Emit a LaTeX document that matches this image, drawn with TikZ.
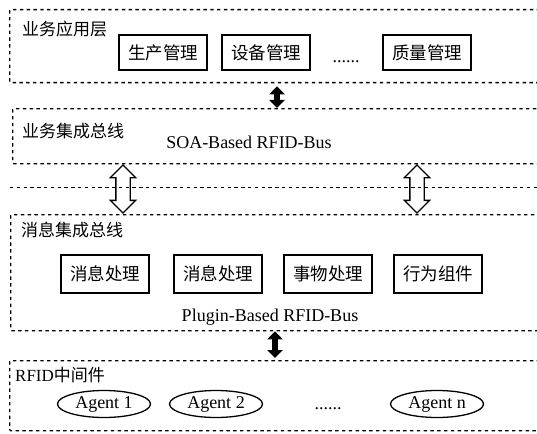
\documentclass[tikz,border=0pt]{standalone}
\usepackage{fontspec}
\setmainfont{Liberation Serif}
\newfontfamily\cjk{Noto Sans CJK SC}
\usetikzlibrary{arrows.meta,shapes.geometric,shapes.arrows}

\tikzset{
  layer/.style={draw, dash pattern=on 3.4pt off 3.4pt, line width=1.3pt,
    rounded corners=1pt, minimum width=545pt, anchor=north west, inner sep=0pt},
  busline/.style={dash pattern=on 3.4pt off 3.4pt, line width=1.2pt},
  layername/.style={anchor=west, inner sep=0pt, font=\fontsize{17pt}{20pt}\selectfont\cjk},
  module/.style={draw, line width=1.3pt, minimum height=35pt, inner xsep=9pt,
    font=\fontsize{17.5pt}{20pt}\selectfont\cjk},
  agent/.style={draw, ellipse, line width=1.3pt, minimum width=93pt,
    minimum height=27pt, inner sep=0pt, font=\fontsize{18pt}{20pt}\selectfont},
  bustext/.style={inner sep=0pt, font=\fontsize{18pt}{20pt}\selectfont},
  solidarrow/.style={line width=6pt,
    {Triangle[length=8pt,width=15pt]}-{Triangle[length=8pt,width=15pt]}},
  hollowarrow/.style={draw, double arrow, line width=1.3pt, shape border rotate=90,
    minimum height=48pt, minimum width=25pt, inner sep=6.5pt,
    double arrow head extend=5.5pt}
}

\begin{document}
\begin{tikzpicture}[x=1pt,y=-1pt]
  \clip (0,0) rectangle (537,433);

  % Layers (right edges run past the page)
  \node[layer, minimum height=73pt] (app) at (9,9) {};
  \node[layer, minimum height=55pt] (soa) at (12,108) {};
  \node[layer, minimum height=116pt] (msg) at (10,214) {};
  \node[layer, minimum height=70pt] (mid) at (9,360) {};
  \coordinate (busl) at (10,187.6);
  \coordinate (busr) at (545,187.6);
  \draw[busline] (busl) -- (busr);

  % Layer names
  \node[layername] (appname) at (22,29) {业务应用层};
  \node[layername] (soaname) at (22,131) {业务集成总线};
  \node[layername] (msgname) at (21,230) {消息集成总线};
  \node[layername] (midname) at (15,375) {\rmfamily RFID\cjk 中间件};

  % Business applications
  \node[module] (prod) at (163,52.5) {生产管理};
  \node[module] (equip) at (266,52.5) {设备管理};
  \node[bustext] (appdots) at (346,62) {......};
  \node[module] (qual) at (427,52.5) {质量管理};

  % Bus texts
  \node[bustext] (soatext) at (249,142) {SOA-Based RFID-Bus};
  \node[bustext] (plugtext) at (270,317) {Plugin-Based RFID-Bus};

  % Message plugins
  \node[module, minimum height=38pt] (msgA) at (105,274) {消息处理};
  \node[module, minimum height=38pt] (msgB) at (218,274) {消息处理};
  \node[module, minimum height=38pt] (trans) at (328,274) {事物处理};
  \node[module, minimum height=38pt] (behav) at (438,274) {行为组件};

  % Agents
  \node[agent] (agent1) at (104,404) {Agent 1};
  \node[agent] (agent2) at (216,404) {Agent 2};
  \node[bustext] (agentdots) at (328,409) {......};
  \node[agent] (agentn) at (437,404) {Agent n};

  % Arrows between layers
  \coordinate (ax) at (277,0);
  \coordinate (bx) at (275,0);
  \draw[solidarrow] ([yshift=-3pt]app.south -| ax) -- (soa.north -| ax);
  \draw[solidarrow] (msg.south -| bx) -- ([yshift=2pt]mid.north -| bx);
  \node[hollowarrow] (liftL) at (123,189) {};
  \node[hollowarrow] (liftR) at (417,189) {};
\end{tikzpicture}
\end{document}
